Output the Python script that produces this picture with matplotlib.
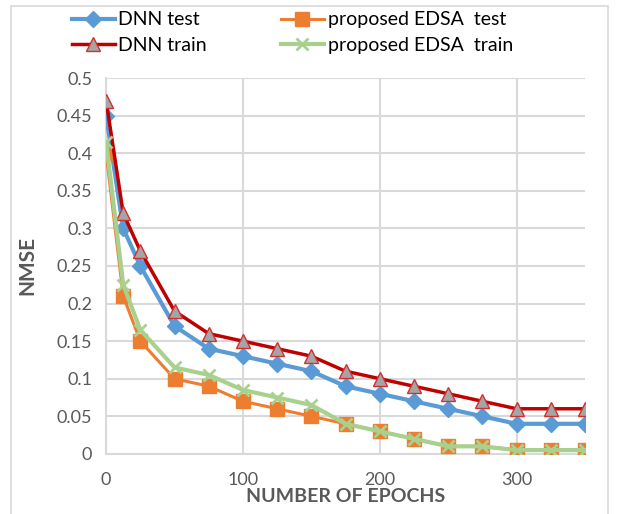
import matplotlib
matplotlib.use("Agg")
import matplotlib.pyplot as plt
from matplotlib.patches import Rectangle

plt.rcParams['font.family'] = ['Lato', 'DejaVu Sans']

epochs = [0, 12.5, 25, 50, 75, 100, 125, 150, 175, 200, 225, 250, 275, 300, 325, 350]
dnn_test = [0.45, 0.30, 0.25, 0.17, 0.14, 0.13, 0.12, 0.11, 0.09, 0.08, 0.07, 0.06, 0.05, 0.04, 0.04, 0.04]
dnn_train = [0.47, 0.32, 0.27, 0.19, 0.16, 0.15, 0.14, 0.13, 0.11, 0.10, 0.09, 0.08, 0.07, 0.06, 0.06, 0.06]
edsa_test = [0.40, 0.21, 0.15, 0.10, 0.09, 0.07, 0.06, 0.05, 0.04, 0.03, 0.02, 0.01, 0.01, 0.005, 0.005, 0.005]
edsa_train = [0.415, 0.225, 0.165, 0.115, 0.105, 0.085, 0.075, 0.065, 0.04, 0.03, 0.02, 0.01, 0.01, 0.005, 0.005, 0.005]

y_ticks = [0, 0.05, 0.1, 0.15, 0.2, 0.25, 0.3, 0.35, 0.4, 0.45, 0.5]
y_labels = ["0", "0.05", "0.1", "0.15", "0.2", "0.25", "0.3", "0.35", "0.4", "0.45", "0.5"]
x_ticks = [0, 100, 200, 300]

fig = plt.figure(figsize=(6.17, 5.14), dpi=100)
ax = fig.add_axes([0.172, 0.117, 0.776, 0.731])

# borde exterior del grafico
fig.patches.append(Rectangle((0.018, -0.01), 0.968, 0.998, transform=fig.transFigure,
                             fill=False, edgecolor='#d9d9d9', linewidth=1.2))

ax.plot(epochs, dnn_test, color='#5B9BD5', lw=3, marker='D', ms=8, zorder=3,
        label='DNN test')
ax.plot(epochs, edsa_test, color='#ED7D31', lw=2.2, marker='s', ms=10, zorder=3,
        label='proposed EDSA  test')
ax.plot(epochs, dnn_train, color='#C00000', lw=2.5, marker='^', ms=10,
        markerfacecolor='#A5A5A5', markeredgecolor='#D03030', zorder=4, label='DNN train')
ax.plot(epochs, edsa_train, color='#A9D18E', lw=3, marker='x', ms=9, mew=2, zorder=4,
        label='proposed EDSA  train')

ax.set_xlim(0, 350)
ax.set_ylim(0, 0.5)
ax.set_yticks(y_ticks)
ax.set_yticklabels(y_labels)
ax.set_xticks(x_ticks)
ax.grid(True, color='#d9d9d9', lw=1.5)
ax.set_axisbelow(True)
for s in ['top', 'right']:
    ax.spines[s].set_visible(False)
for s in ['left', 'bottom']:
    ax.spines[s].set_color('#d9d9d9')
    ax.spines[s].set_linewidth(1.5)
ax.tick_params(axis='both', length=0, labelsize=13, colors='#595959')
ax.tick_params(axis='x', pad=13)
ax.tick_params(axis='y', pad=10)

ax.set_xlabel('NUMBER OF EPOCHS', fontsize=14, fontweight='bold', color='#595959', labelpad=0)
ax.set_ylabel('NMSE', fontsize=15, fontweight='bold', color='#595959', labelpad=14)

h, l = ax.get_legend_handles_labels()
orden = [0, 2, 1, 3]
fig.legend([h[i] for i in orden], [l[i] for i in orden], ncol=2, loc='upper left',
           bbox_to_anchor=(0.088, 1.012), frameon=False, fontsize=14, handlelength=2.2,
           columnspacing=3.8, handletextpad=0.2, labelspacing=0.45)

fig.savefig('out.png', dpi=100)
